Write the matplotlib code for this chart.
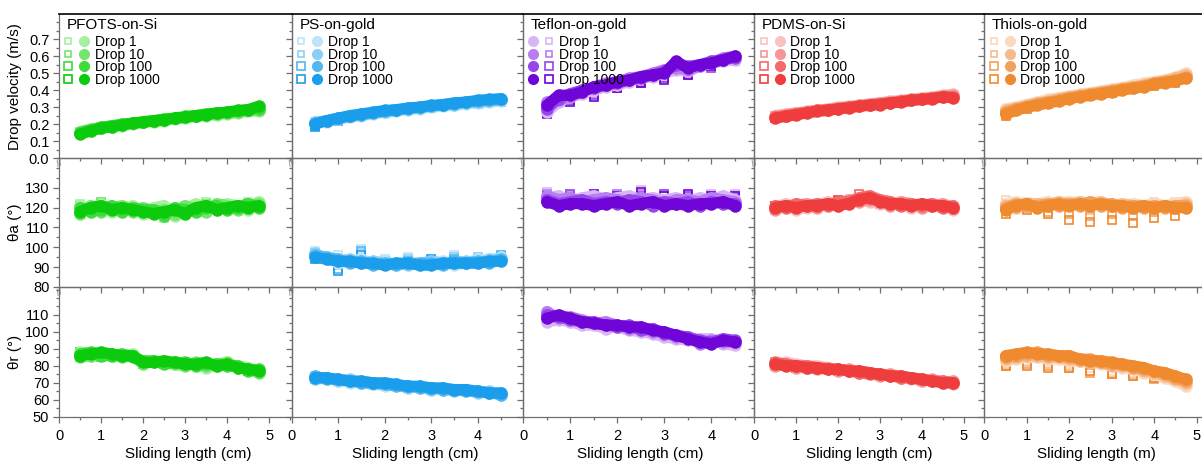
import matplotlib
matplotlib.use("Agg")
import matplotlib.pyplot as plt
from matplotlib.lines import Line2D
from matplotlib.legend_handler import HandlerTuple
from matplotlib.ticker import MultipleLocator, FormatStrFormatter

plt.rcParams['font.family'] = ['Liberation Sans', 'DejaVu Sans']

# ---------------- data ----------------
surfaces = ["PFOTS-on-Si", "PS-on-gold", "Teflon-on-gold", "PDMS-on-Si", "Thiols-on-gold"]
drop_labels = ["Drop 1", "Drop 10", "Drop 100", "Drop 1000"]
row_labels = ["Drop velocity (m/s)", "θa (°)", "θr (°)"]
x_labels = ["Sliding length (cm)", "Sliding length (cm)", "Sliding length (cm)",
            "Sliding length (cm)", "Sliding length (m)"]
row_ticks = [[0.0, 0.1, 0.2, 0.3, 0.4, 0.5, 0.6, 0.7],
             [80, 90, 100, 110, 120, 130],
             [50, 60, 70, 80, 90, 100, 110]]

pfots_x = [0.5, 0.75, 1.0, 1.25, 1.5, 1.75, 2.0, 2.25, 2.5, 2.75, 3.0, 3.25, 3.5, 3.75, 4.0, 4.25, 4.5, 4.75]
ps_x = [0.5, 0.75, 1.0, 1.25, 1.5, 1.75, 2.0, 2.25, 2.5, 2.75, 3.0, 3.25, 3.5, 3.75, 4.0, 4.25, 4.5]
teflon_x = [0.5, 0.75, 1.0, 1.25, 1.5, 1.75, 2.0, 2.25, 2.5, 2.75, 3.0, 3.25, 3.5, 3.75, 4.0, 4.25, 4.5]
pdms_x = [0.5, 0.75, 1.0, 1.25, 1.5, 1.75, 2.0, 2.25, 2.5, 2.75, 3.0, 3.25, 3.5, 3.75, 4.0, 4.25, 4.5, 4.75]
thiols_x = [0.5, 0.75, 1.0, 1.25, 1.5, 1.75, 2.0, 2.25, 2.5, 2.75, 3.0, 3.25, 3.5, 3.75, 4.0, 4.25, 4.5, 4.75]

# circles: drop 1, 10, 100, 1000 ; squares: drop 1, 10, 100, 1000 (every other x)
pfots_vel_c = [
    [0.15, 0.165, 0.175, 0.185, 0.19, 0.2, 0.21, 0.215, 0.22, 0.23, 0.235, 0.245, 0.25, 0.255, 0.26, 0.265, 0.275, 0.275],
    [0.155, 0.17, 0.18, 0.19, 0.195, 0.205, 0.21, 0.22, 0.225, 0.235, 0.24, 0.245, 0.255, 0.26, 0.265, 0.27, 0.28, 0.285],
    [0.15, 0.165, 0.18, 0.19, 0.2, 0.205, 0.215, 0.22, 0.23, 0.235, 0.245, 0.25, 0.26, 0.265, 0.27, 0.275, 0.285, 0.29],
    [0.14, 0.16, 0.175, 0.185, 0.195, 0.205, 0.21, 0.22, 0.225, 0.235, 0.24, 0.25, 0.255, 0.265, 0.27, 0.28, 0.285, 0.305]]
pfots_vel_s = [
    [0.15, 0.175, 0.19, 0.205, 0.22, 0.235, 0.25, 0.26, 0.27],
    [0.155, 0.18, 0.195, 0.21, 0.225, 0.24, 0.255, 0.265, 0.275],
    [0.15, 0.175, 0.195, 0.21, 0.225, 0.24, 0.255, 0.27, 0.28],
    [0.145, 0.175, 0.195, 0.21, 0.225, 0.24, 0.255, 0.27, 0.285]]
pfots_adv_c = [
    [121, 119, 122, 118, 119, 121, 117, 120, 121, 116, 119, 122, 119, 120, 122, 121, 119, 123],
    [117, 121, 118, 120, 121, 118, 120, 118, 119, 117, 121, 119, 118, 122, 121, 119, 121, 122],
    [120, 118, 119, 121, 118, 120, 119, 119, 116, 120, 119, 118, 120, 121, 119, 120, 122, 120],
    [118, 120, 121, 119, 120, 119, 118, 117, 118, 119, 117, 120, 121, 119, 120, 121, 120, 121]]
pfots_adv_s = [
    [122, 123, 121, 119, 115, 121, 123, 122, 123],
    [121, 123, 120, 118, 117, 120, 122, 121, 122],
    [119, 122, 121, 120, 118, 119, 121, 122, 122],
    [120, 121, 119, 120, 119, 118, 120, 121, 121]]
pfots_rec_c = [
    [88, 86, 87, 86, 86, 87, 82, 82, 82, 81, 81, 81, 79, 80, 81, 80, 79, 77],
    [85, 86, 87, 87, 85, 86, 81, 83, 82, 81, 80, 82, 80, 81, 82, 79, 78, 76],
    [87, 88, 86, 86, 87, 85, 83, 83, 81, 82, 82, 80, 81, 81, 80, 80, 77, 78],
    [86, 87, 88, 87, 86, 86, 82, 82, 83, 82, 81, 81, 82, 80, 81, 79, 78, 77]]
pfots_rec_s = [
    [87, 86, 85, 82, 83, 82, 81, 80, 79],
    [86, 87, 86, 82, 82, 81, 82, 81, 78],
    [85, 85, 87, 83, 81, 82, 80, 81, 78],
    [88, 86, 85, 81, 82, 80, 81, 80, 77]]

ps_vel_c = [
    [0.21, 0.215, 0.23, 0.24, 0.25, 0.26, 0.27, 0.275, 0.285, 0.29, 0.3, 0.305, 0.31, 0.32, 0.325, 0.33, 0.335],
    [0.21, 0.22, 0.23, 0.245, 0.255, 0.265, 0.27, 0.28, 0.29, 0.295, 0.305, 0.31, 0.315, 0.325, 0.33, 0.335, 0.34],
    [0.205, 0.22, 0.235, 0.245, 0.255, 0.265, 0.275, 0.285, 0.29, 0.3, 0.305, 0.315, 0.32, 0.33, 0.335, 0.34, 0.345],
    [0.2, 0.22, 0.235, 0.25, 0.26, 0.27, 0.28, 0.285, 0.295, 0.3, 0.31, 0.315, 0.325, 0.33, 0.34, 0.345, 0.35]]
ps_vel_s = [
    [0.21, 0.23, 0.25, 0.27, 0.285, 0.3, 0.31, 0.32, 0.33],
    [0.2, 0.23, 0.255, 0.27, 0.285, 0.3, 0.31, 0.325, 0.335],
    [0.19, 0.225, 0.25, 0.27, 0.285, 0.3, 0.315, 0.325, 0.335],
    [0.185, 0.22, 0.245, 0.265, 0.28, 0.295, 0.31, 0.32, 0.33]]
ps_adv_c = [
    [96, 95, 92, 93, 94, 92, 93, 91, 92, 91, 92, 93, 91, 92, 94, 93, 95],
    [97, 94, 93, 94, 92, 93, 92, 92, 91, 92, 93, 92, 92, 93, 92, 94, 94],
    [96, 95, 94, 92, 93, 91, 92, 91, 92, 92, 92, 91, 93, 92, 93, 92, 94],
    [95, 94, 93, 93, 92, 92, 91, 92, 92, 91, 91, 92, 92, 92, 92, 93, 93]]
ps_adv_s = [
    [98, 96, 99, 94, 95, 93, 96, 94, 96],
    [97, 91, 97, 93, 94, 93, 95, 95, 95],
    [96, 89, 98, 92, 93, 92, 94, 94, 96],
    [94, 88, 96, 93, 92, 94, 93, 93, 95]]
ps_rec_c = [
    [73, 72, 72, 70, 71, 70, 68, 69, 68, 67, 67, 66, 66, 65, 65, 64, 64],
    [72, 73, 71, 72, 70, 69, 69, 69, 67, 68, 66, 67, 65, 66, 64, 65, 63],
    [74, 72, 72, 71, 70, 70, 69, 68, 68, 67, 67, 66, 66, 65, 65, 64, 63],
    [73, 73, 72, 71, 71, 70, 70, 69, 68, 68, 67, 67, 66, 66, 65, 64, 64]]
ps_rec_s = [
    [74, 72, 71, 70, 68, 67, 66, 65, 64],
    [73, 72, 70, 69, 68, 67, 66, 65, 64],
    [72, 71, 70, 69, 68, 66, 66, 64, 63],
    [73, 72, 71, 69, 67, 67, 65, 65, 63]]

teflon_vel_c = [
    [0.27, 0.33, 0.36, 0.38, 0.4, 0.42, 0.43, 0.45, 0.47, 0.48, 0.5, 0.52, 0.51, 0.54, 0.56, 0.57, 0.58],
    [0.33, 0.34, 0.36, 0.39, 0.42, 0.44, 0.45, 0.47, 0.48, 0.5, 0.52, 0.53, 0.52, 0.54, 0.56, 0.59, 0.6],
    [0.29, 0.35, 0.38, 0.4, 0.41, 0.43, 0.44, 0.46, 0.47, 0.49, 0.51, 0.55, 0.54, 0.55, 0.57, 0.58, 0.59],
    [0.31, 0.37, 0.37, 0.39, 0.42, 0.43, 0.45, 0.46, 0.48, 0.49, 0.5, 0.57, 0.53, 0.55, 0.56, 0.58, 0.6]]
teflon_vel_s = [
    [0.29, 0.35, 0.39, 0.43, 0.46, 0.48, 0.51, 0.55, 0.58],
    [0.27, 0.34, 0.38, 0.42, 0.45, 0.47, 0.5, 0.54, 0.57],
    [0.28, 0.34, 0.37, 0.41, 0.44, 0.47, 0.49, 0.53, 0.58],
    [0.26, 0.33, 0.36, 0.41, 0.44, 0.46, 0.49, 0.54, 0.59]]
teflon_adv_c = [
    [125, 126, 123, 125, 126, 124, 125, 126, 124, 125, 124, 125, 123, 125, 124, 126, 124],
    [126, 124, 125, 123, 124, 125, 124, 123, 125, 124, 122, 124, 124, 123, 125, 124, 123],
    [124, 122, 123, 124, 122, 123, 122, 124, 123, 121, 123, 122, 123, 121, 123, 122, 122],
    [123, 121, 122, 122, 121, 122, 123, 121, 122, 123, 121, 122, 121, 122, 122, 123, 121]]
teflon_adv_s = [
    [128, 127, 126, 127, 129, 127, 126, 127, 127],
    [127, 126, 125, 127, 127, 126, 125, 126, 126],
    [125, 127, 126, 125, 126, 127, 126, 125, 125],
    [126, 125, 127, 126, 128, 126, 127, 126, 126]]
teflon_rec_c = [
    [106, 107, 106, 104, 104, 102, 103, 101, 100, 99, 97, 96, 95, 96, 96, 93, 92],
    [112, 108, 109, 107, 105, 106, 104, 102, 102, 100, 100, 97, 97, 93, 95, 94, 94],
    [110, 109, 107, 106, 106, 104, 103, 104, 101, 102, 99, 98, 97, 95, 94, 96, 95],
    [108, 110, 108, 106, 105, 104, 104, 103, 103, 101, 100, 98, 96, 94, 93, 95, 94]]
teflon_rec_s = [
    [108, 106, 105, 103, 101, 99, 96, 95, 92],
    [111, 108, 105, 104, 102, 99, 97, 96, 94],
    [109, 107, 106, 103, 102, 100, 96, 95, 93],
    [110, 107, 104, 104, 101, 98, 95, 95, 92]]

pdms_vel_c = [
    [0.25, 0.26, 0.265, 0.275, 0.28, 0.29, 0.3, 0.305, 0.31, 0.32, 0.325, 0.335, 0.34, 0.345, 0.355, 0.36, 0.37, 0.375],
    [0.245, 0.255, 0.265, 0.27, 0.28, 0.285, 0.295, 0.3, 0.31, 0.315, 0.325, 0.33, 0.335, 0.345, 0.35, 0.355, 0.365, 0.37],
    [0.24, 0.25, 0.26, 0.27, 0.28, 0.285, 0.29, 0.3, 0.305, 0.315, 0.32, 0.325, 0.335, 0.34, 0.345, 0.355, 0.36, 0.36],
    [0.235, 0.245, 0.255, 0.265, 0.275, 0.28, 0.29, 0.295, 0.305, 0.31, 0.315, 0.325, 0.33, 0.34, 0.345, 0.35, 0.36, 0.355]]
pdms_vel_s = [
    [0.25, 0.265, 0.285, 0.3, 0.315, 0.325, 0.34, 0.35, 0.365],
    [0.245, 0.265, 0.28, 0.295, 0.31, 0.325, 0.335, 0.35, 0.36],
    [0.24, 0.26, 0.275, 0.29, 0.305, 0.32, 0.33, 0.345, 0.355],
    [0.235, 0.255, 0.275, 0.29, 0.305, 0.315, 0.33, 0.34, 0.355]]
pdms_adv_c = [
    [120, 122, 119, 120, 121, 123, 121, 123, 124, 123, 122, 122, 122, 120, 121, 122, 121, 119],
    [119, 121, 121, 122, 120, 122, 122, 124, 123, 124, 123, 121, 123, 122, 120, 121, 122, 120],
    [121, 120, 122, 121, 122, 121, 123, 123, 125, 126, 124, 123, 121, 122, 121, 122, 120, 121],
    [120, 121, 120, 121, 121, 122, 121, 122, 124, 125, 123, 122, 122, 121, 122, 121, 121, 120]]
pdms_adv_s = [
    [119, 120, 121, 122, 123, 123, 122, 121, 120],
    [121, 121, 122, 123, 124, 122, 121, 122, 121],
    [120, 120, 121, 123, 127, 123, 122, 121, 121],
    [121, 121, 120, 124, 124, 122, 121, 121, 120]]
pdms_rec_c = [
    [81, 82, 81, 80, 80, 79, 78, 77, 77, 76, 75, 75, 74, 72, 72, 71, 71, 69],
    [80, 81, 79, 79, 78, 79, 77, 78, 76, 76, 74, 75, 73, 73, 71, 72, 70, 71],
    [82, 81, 80, 80, 79, 78, 78, 77, 76, 75, 75, 74, 73, 73, 72, 71, 71, 70],
    [81, 80, 80, 79, 79, 78, 78, 77, 77, 76, 75, 74, 74, 73, 72, 71, 70, 70]]
pdms_rec_s = [
    [81, 80, 79, 78, 77, 75, 74, 72, 71],
    [82, 80, 79, 78, 76, 75, 73, 72, 70],
    [80, 81, 78, 77, 76, 74, 73, 72, 70],
    [81, 79, 79, 77, 77, 75, 74, 71, 70]]

thiols_vel_c = [
    [0.29, 0.3, 0.315, 0.33, 0.345, 0.355, 0.365, 0.375, 0.385, 0.395, 0.405, 0.415, 0.43, 0.44, 0.45, 0.46, 0.475, 0.5],
    [0.28, 0.295, 0.31, 0.325, 0.335, 0.35, 0.36, 0.37, 0.38, 0.39, 0.4, 0.41, 0.42, 0.43, 0.445, 0.455, 0.47, 0.49],
    [0.27, 0.29, 0.3, 0.32, 0.33, 0.34, 0.355, 0.365, 0.375, 0.385, 0.395, 0.405, 0.415, 0.425, 0.44, 0.45, 0.46, 0.475],
    [0.26, 0.28, 0.3, 0.31, 0.325, 0.335, 0.35, 0.36, 0.37, 0.38, 0.39, 0.4, 0.41, 0.42, 0.435, 0.445, 0.455, 0.47]]
thiols_vel_s = [
    [0.28, 0.31, 0.34, 0.36, 0.38, 0.4, 0.42, 0.44, 0.46],
    [0.27, 0.3, 0.33, 0.355, 0.375, 0.395, 0.415, 0.435, 0.455],
    [0.26, 0.3, 0.33, 0.35, 0.37, 0.39, 0.41, 0.43, 0.45],
    [0.25, 0.29, 0.32, 0.345, 0.365, 0.385, 0.405, 0.425, 0.445]]
thiols_adv_c = [
    [122, 123, 121, 122, 123, 122, 123, 122, 123, 122, 122, 121, 122, 121, 122, 121, 122, 123],
    [121, 120, 122, 122, 121, 123, 122, 123, 122, 123, 121, 122, 121, 121, 120, 121, 120, 122],
    [120, 122, 121, 121, 122, 121, 122, 121, 123, 121, 122, 120, 121, 120, 121, 120, 121, 121],
    [119, 121, 122, 120, 121, 122, 121, 122, 121, 122, 121, 121, 120, 121, 120, 121, 120, 120]]
thiols_adv_s = [
    [124, 123, 122, 121, 120, 121, 122, 123, 123],
    [122, 121, 120, 118, 119, 120, 119, 120, 121],
    [119, 120, 118, 117, 116, 117, 116, 118, 119],
    [117, 119, 117, 114, 113, 114, 112, 115, 116]]
thiols_rec_c = [
    [83, 84, 85, 85, 84, 84, 83, 83, 82, 81, 80, 79, 78, 76, 75, 73, 71, 68],
    [84, 85, 86, 86, 85, 85, 84, 83, 82, 82, 80, 80, 79, 77, 76, 74, 72, 70],
    [85, 86, 87, 88, 86, 86, 85, 84, 84, 82, 81, 81, 79, 78, 77, 75, 73, 71],
    [86, 87, 88, 87, 87, 86, 86, 84, 83, 83, 82, 81, 80, 79, 77, 76, 74, 72]]
thiols_rec_s = [
    [83, 83, 82, 81, 79, 77, 76, 74, 72],
    [81, 82, 81, 80, 77, 76, 75, 73, 71],
    [80, 81, 80, 79, 76, 75, 74, 72, 72],
    [80, 80, 79, 79, 77, 75, 74, 73, 73]]

pfots_colors = ['#a6f0a0', '#74e66e', '#3ddb3d', '#0ccb0c']
ps_colors = ['#bfe4fa', '#8ccff6', '#52b8f1', '#1a9eec']
teflon_colors = ['#d8b6f6', '#b87ef1', '#9647ea', '#6f05d6']
pdms_colors = ['#f9c2c2', '#f69696', '#f36a6a', '#ef3c3c']
thiols_colors = ['#fad9bd', '#f6bb8d', '#f3a160', '#f08a2e']

# ---------------- layout ----------------
W, H = 1202, 466
fig = plt.figure(figsize=(W / 100, H / 100), dpi=100)

col_left = [59, 291.7, 523.3, 754.3, 984.3]
col_width = [232.7, 231.6, 231.0, 230.0, 233.6]
col_xmax = [5.54, 4.98, 4.91, 5.49, 5.5]
row_top = [14.3, 158.0, 287.0]
row_bot = [158.0, 287.0, 416.7]
row_ylim = [(0, 0.847), (80, 145), (50, 126.5)]
row_minor = [0.05, 5, 5]
xlabel_xpos = [0.555, 0.535, 0.505, 0.5, 0.48]

col_x = [pfots_x, ps_x, teflon_x, pdms_x, thiols_x]
col_colors = [pfots_colors, ps_colors, teflon_colors, pdms_colors, thiols_colors]
col_data = [
    [(pfots_vel_c, pfots_vel_s), (pfots_adv_c, pfots_adv_s), (pfots_rec_c, pfots_rec_s)],
    [(ps_vel_c, ps_vel_s), (ps_adv_c, ps_adv_s), (ps_rec_c, ps_rec_s)],
    [(teflon_vel_c, teflon_vel_s), (teflon_adv_c, teflon_adv_s), (teflon_rec_c, teflon_rec_s)],
    [(pdms_vel_c, pdms_vel_s), (pdms_adv_c, pdms_adv_s), (pdms_rec_c, pdms_rec_s)],
    [(thiols_vel_c, thiols_vel_s), (thiols_adv_c, thiols_adv_s), (thiols_rec_c, thiols_rec_s)],
]

spine_gray = '#6e6e6e'
tick_fs = 10.5

for r in range(3):
    for c in range(5):
        l = col_left[c] / W
        b = 1 - row_bot[r] / H
        w = col_width[c] / W
        h = (row_bot[r] - row_top[r]) / H
        ax = fig.add_axes([l, b, w, h])
        ax.patch.set_visible(False)
        xs = col_x[c]
        xs_sq = xs[::2]
        circ, sq = col_data[c][r]
        cols = col_colors[c]
        for k in range(4):
            ax.plot(xs_sq, sq[k], ls='none', marker='s', ms=6, mfc='none',
                    mec=cols[k], mew=1.2, zorder=2)
        for k in range(4):
            ax.plot(xs, circ[k], ls='-', lw=8, color=cols[k], solid_capstyle='round',
                    solid_joinstyle='round', marker='o', ms=9, mfc=cols[k],
                    mec=cols[k], mew=0, zorder=3)
        ax.set_xlim(0, col_xmax[c])
        ax.set_ylim(*row_ylim[r])
        ax.xaxis.set_major_locator(MultipleLocator(1))
        ax.xaxis.set_minor_locator(MultipleLocator(0.5))
        ax.set_yticks(row_ticks[r])
        ax.yaxis.set_minor_locator(MultipleLocator(row_minor[r]))
        if r == 0:
            ax.yaxis.set_major_formatter(FormatStrFormatter('%.1f'))
        ax.tick_params(which='both', direction='out', colors=spine_gray,
                       labelcolor='black', labelsize=tick_fs, width=0.9)
        ax.tick_params(which='major', length=4.5, pad=2.5)
        ax.tick_params(axis='x', which='major', pad=4.5)
        ax.tick_params(which='minor', length=2.5)
        for s in ax.spines.values():
            s.set_color(spine_gray)
            s.set_linewidth(0.9)
        if r == 0:
            ax.spines['top'].set_color('black')
            ax.spines['top'].set_linewidth(1.2)
        if c != 0:
            ax.tick_params(axis='y', labelleft=False)
        else:
            ax.set_ylabel(row_labels[r], fontsize=11)
            ax.yaxis.set_label_coords(-0.16, 0.5)
        if r != 2:
            ax.tick_params(axis='x', labelbottom=False)
        else:
            ax.set_xlabel(x_labels[c], fontsize=11)
            ax.xaxis.set_label_coords(xlabel_xpos[c], -0.235)
        if r > 0:
            ax.text(0, 0.955, '//', transform=ax.transAxes, ha='center', va='center',
                    fontsize=6.5, color=spine_gray, rotation=20)
        if r == 0:
            ax.text(0.033, 0.975, surfaces[c], transform=ax.transAxes, ha='left',
                    va='top', fontsize=11)
            handles = []
            for k in range(4):
                hs = Line2D([], [], ls='none', marker='s', ms=4.5 + 0.3 * k, mfc='none',
                            mec=cols[k], mew=1.2)
                hc = Line2D([], [], ls='none', marker='o', ms=7, mfc=cols[k], mec=cols[k])
                handles.append((hc, hs) if c == 2 else (hs, hc))
            ax.legend(handles, drop_labels, loc='upper left', bbox_to_anchor=(0.0, 0.895),
                      frameon=False, fontsize=10, handler_map={tuple: HandlerTuple(ndivide=None, pad=0.6)},
                      handlelength=1.7, handletextpad=0.5, labelspacing=-0.1,
                      borderpad=0.2, borderaxespad=0.2)

fig.savefig('out.png', dpi=100)
